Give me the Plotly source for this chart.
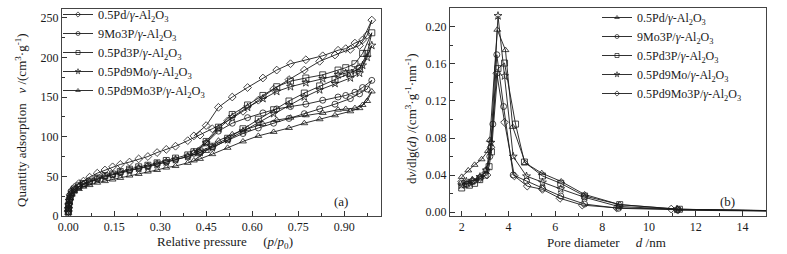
import plotly.graph_objects as go

# ---------------- Left panel: N2 isotherms (a) ----------------
P_ADS = [0.0005, 0.001, 0.002, 0.004, 0.007, 0.012, 0.02, 0.035, 0.05, 0.07, 0.095, 0.12,
         0.145, 0.17, 0.2, 0.23, 0.26, 0.29, 0.32, 0.35, 0.39, 0.43, 0.47, 0.52, 0.57, 0.62,
         0.67, 0.72, 0.77, 0.82, 0.87, 0.92, 0.95, 0.975, 0.99]
P_DES = [0.96, 0.935, 0.905, 0.88, 0.83, 0.775, 0.725, 0.68, 0.635, 0.585, 0.535, 0.49, 0.45, 0.41]

A_PD_ADS = [6, 10, 15, 21, 27, 32, 36, 41, 44, 49, 54, 58, 62, 65, 68, 72, 75, 80, 84, 88, 95, 102,
            110, 120, 132, 146, 160, 172, 184, 195, 203, 210, 215, 228, 247]
A_PD_DES = [222, 218, 211, 209, 202, 197, 192, 184, 174, 162, 150, 137, 114, 101]

A_MOP_ADS = [5, 9, 14, 19, 24, 29, 33, 37, 40, 43, 47, 50, 52, 55, 58, 60, 63, 66, 68, 71, 75, 80,
             87, 96, 104, 111, 117, 123, 129, 135, 141, 148, 154, 160, 171]
A_MOP_DES = [162, 156, 152, 150, 146, 141, 138, 135, 130, 124, 117, 107, 92, 79]

A_PDP_ADS = [5, 9, 14, 20, 25, 30, 34, 38, 41, 44, 48, 51, 53, 56, 59, 62, 64, 67, 70, 73, 77, 82,
             88, 98, 110, 122, 134, 145, 155, 164, 172, 180, 186, 205, 231]
A_PDP_DES = [205, 192, 187, 184, 178, 174, 170, 163, 152, 140, 128, 112, 94, 81]

A_PDMO_ADS = [5, 9, 14, 19, 24, 29, 33, 37, 40, 43, 46, 49, 52, 54, 57, 60, 62, 65, 68, 71, 75, 80,
              86, 96, 107, 118, 129, 140, 150, 159, 167, 174, 180, 200, 215]
A_PDMO_DES = [190, 183, 180, 178, 173, 168, 163, 157, 148, 137, 125, 110, 92, 80]

A_ALL_ADS = [4, 8, 12, 17, 22, 27, 31, 34, 37, 39, 42, 44, 46, 48, 51, 53, 56, 58, 61, 63, 67, 72,
             78, 86, 94, 101, 106, 111, 117, 122, 127, 132, 136, 145, 157]
A_ALL_DES = [140, 136, 135, 134, 130, 127, 124, 121, 116, 110, 103, 95, 82, 70]

LEFT_NAMES = ["0.5Pd/<i>γ</i>-Al<sub>2</sub>O<sub>3</sub>",
              "9Mo3P/<i>γ</i>-Al<sub>2</sub>O<sub>3</sub>",
              "0.5Pd3P/<i>γ</i>-Al<sub>2</sub>O<sub>3</sub>",
              "0.5Pd9Mo/<i>γ</i>-Al<sub>2</sub>O<sub>3</sub>",
              "0.5Pd9Mo3P/<i>γ</i>-Al<sub>2</sub>O<sub>3</sub>"]
LEFT_SYMBOLS = ["diamond-open", "circle-open", "square-open", "star-open", "triangle-up-open"]
LEFT_ADS = [A_PD_ADS, A_MOP_ADS, A_PDP_ADS, A_PDMO_ADS, A_ALL_ADS]
LEFT_DES = [A_PD_DES, A_MOP_DES, A_PDP_DES, A_PDMO_DES, A_ALL_DES]

# ---------------- Right panel: pore size distribution (b) ----------------
B_PD_D = [2.0, 2.28, 2.55, 2.85, 3.12, 3.2, 3.52, 3.87, 4.18, 4.72, 5.42, 6.25, 7.25, 8.75, 11.3, 16]
B_PD_V = [0.038, 0.045, 0.051, 0.057, 0.066, 0.078, 0.197, 0.175, 0.092, 0.053, 0.042, 0.033, 0.019, 0.008, 0.003, 0.0012]

B_MOP_D = [2.0, 2.25, 2.5, 2.8, 3.05, 3.2, 3.33, 3.5, 3.79, 4.2, 4.77, 5.45, 6.23, 7.25, 8.7, 11.2, 16]
B_MOP_V = [0.031, 0.030, 0.033, 0.0375, 0.045, 0.06, 0.095, 0.17, 0.114, 0.040, 0.0335, 0.0256, 0.0173, 0.0086, 0.004, 0.0025, 0.001]

B_PDP_D = [2.0, 2.33, 2.55, 2.77, 3.0, 3.17, 3.27, 3.55, 3.83, 4.3, 4.68, 5.45, 6.23, 7.25, 8.75, 11.3, 16]
B_PDP_V = [0.026, 0.029, 0.031, 0.035, 0.040, 0.049, 0.065, 0.155, 0.161, 0.095, 0.054, 0.039, 0.031, 0.0173, 0.008, 0.003, 0.0012]

B_PDMO_D = [2.0, 2.2, 2.45, 2.78, 3.05, 3.25, 3.55, 3.83, 4.2, 4.77, 5.45, 6.23, 7.25, 8.7, 11.2, 16]
B_PDMO_V = [0.029, 0.033, 0.034, 0.038, 0.045, 0.075, 0.212, 0.147, 0.060, 0.0387, 0.032, 0.0249, 0.0159, 0.006, 0.003, 0.001]

B_ALL_D = [2.0, 2.2, 2.46, 2.77, 3.08, 3.25, 3.5, 3.83, 4.25, 4.8, 5.45, 6.2, 7.15, 8.62, 10.95, 11.23, 16]
B_ALL_V = [0.033, 0.030, 0.034, 0.036, 0.040, 0.070, 0.150, 0.097, 0.039, 0.028, 0.0245, 0.0148, 0.0075, 0.0045, 0.0032, 0.002, 0.0008]

RIGHT_NAMES = LEFT_NAMES
RIGHT_SYMBOLS = ["triangle-up-open", "circle-open", "square-open", "star-open", "diamond-open"]
RIGHT_D = [B_PD_D, B_MOP_D, B_PDP_D, B_PDMO_D, B_ALL_D]
RIGHT_V = [B_PD_V, B_MOP_V, B_PDP_V, B_PDMO_V, B_ALL_V]

W, H = 787, 254
FONT = "Liberation Serif"
INK = "#1a1a1a"


def px(x):
    return x / W


def py(y):
    return 1 - y / H


fig = go.Figure()

line_style = dict(color=INK, width=0.9)

for name, sym, ads, des in zip(LEFT_NAMES, LEFT_SYMBOLS, LEFT_ADS, LEFT_DES):
    fig.add_trace(go.Scatter(
        x=P_ADS + P_DES, y=ads + des, name=name, mode="lines+markers", showlegend=False,
        line=line_style,
        marker=dict(symbol=sym, size=6, color=INK, line=dict(width=0.8, color=INK)),
        xaxis="x", yaxis="y"))
    # legend entry (small symbol like the reference)
    fig.add_trace(go.Scatter(
        x=[None], y=[None], name=name, mode="lines+markers", line=line_style,
        marker=dict(symbol=sym, size=4, color=INK, line=dict(width=0.7, color=INK)),
        xaxis="x", yaxis="y", legend="legend"))

for name, sym, d, v in zip(RIGHT_NAMES, RIGHT_SYMBOLS, RIGHT_D, RIGHT_V):
    fig.add_trace(go.Scatter(
        x=d, y=v, name=name, mode="lines+markers", showlegend=False,
        line=line_style,
        marker=dict(symbol=sym, size=6, color=INK, line=dict(width=0.8, color=INK)),
        xaxis="x2", yaxis="y2"))
    fig.add_trace(go.Scatter(
        x=[None], y=[None], name=name, mode="lines+markers", line=line_style,
        marker=dict(symbol=sym, size=4, color=INK, line=dict(width=0.7, color=INK)),
        xaxis="x2", yaxis="y2", legend="legend2"))

axis_common = dict(
    showline=True, linecolor="#444", linewidth=1, mirror=True,
    ticks="inside", ticklen=5, tickwidth=1, tickcolor="#333",
    showgrid=False, zeroline=False, automargin=False,
    tickfont=dict(family=FONT, size=12, color=INK),
)

fig.update_layout(
    width=W, height=H,
    margin=dict(l=0, r=0, t=0, b=0, pad=0, autoexpand=False),
    paper_bgcolor="white", plot_bgcolor="white",
    font=dict(family=FONT, size=12, color=INK),
    xaxis=dict(domain=[px(62), px(381)], range=[-0.02, 1.02], tickvals=[0, 0.15, 0.3, 0.45, 0.6, 0.75, 0.9],
               tickformat=".2f", minor=dict(ticks="inside", ticklen=3, dtick=0.075, tick0=0, tickcolor="#333"),
               anchor="y", **axis_common),
    yaxis=dict(domain=[py(216), py(9)], range=[0, 261], dtick=50,
               minor=dict(ticks="inside", ticklen=3, dtick=25, tickcolor="#333"),
               anchor="x", **axis_common),
    xaxis2=dict(domain=[px(450), px(766)], range=[1.5, 15], dtick=2, tick0=0,
                minor=dict(ticks="inside", ticklen=3, dtick=1, tickcolor="#333"),
                anchor="y2", **axis_common),
    yaxis2=dict(domain=[py(216), py(8)], range=[-0.0043, 0.2205], dtick=0.04, tickformat=".2f",
                minor=dict(ticks="inside", ticklen=3, dtick=0.02, tickcolor="#333"),
                anchor="x2", **axis_common),
    legend=dict(x=px(58), y=py(0), xanchor="left", yanchor="top", bgcolor="rgba(0,0,0,0)",
                font=dict(family=FONT, size=12.3, color=INK), tracegroupgap=0),
    legend2=dict(x=px(597), y=py(3), xanchor="left", yanchor="top", bgcolor="rgba(0,0,0,0)",
                 font=dict(family=FONT, size=12, color=INK), tracegroupgap=0),
    showlegend=True,
)

ann = [
    dict(text="Quantity adsorption\u00a0\u00a0\u00a0<i>v</i> /(cm<sup>3</sup>·g<sup>-1</sup>)",
         x=px(21), y=py(120), textangle=-90, font=dict(size=13)),
    dict(text="Relative pressure\u00a0\u00a0\u00a0\u00a0\u00a0(<i>p</i>/<i>p</i><sub>0</sub>)",
         x=px(225), y=py(242), font=dict(size=13)),
    dict(text="d<i>v</i>/dlg(<i>d</i>) /(cm<sup>3</sup>·g<sup>-1</sup>·nm<sup>-1</sup>)",
         x=px(411), y=py(119), textangle=-90, font=dict(size=13)),
    dict(text="Pore diameter\u00a0\u00a0\u00a0\u00a0\u00a0<i>d</i> /nm",
         x=px(606), y=py(242), font=dict(size=13)),
    dict(text="(a)", x=px(341), y=py(201), font=dict(size=13)),
    dict(text="(b)", x=px(727), y=py(201), font=dict(size=13)),
]
for a in ann:
    a.update(xref="paper", yref="paper", showarrow=False, xanchor="center", yanchor="middle")
    a["font"] = dict(family=FONT, color=INK, **a["font"])
fig.update_layout(annotations=ann)

# the page's default 8px body margin would shift the figure; remove it
fig.write_html("out.html", config={"displayModeBar": False},
               post_script="document.body.style.margin='0';")
